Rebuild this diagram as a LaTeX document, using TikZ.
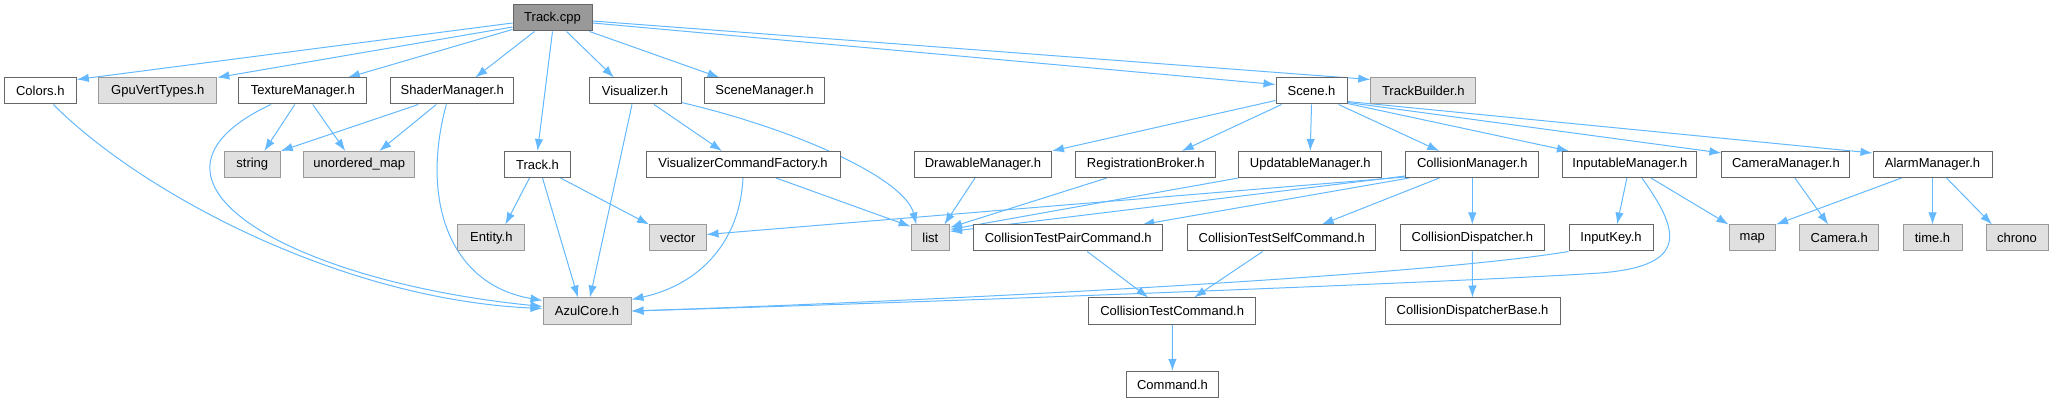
\documentclass[tikz,border=0pt]{standalone}
\usepackage{fontspec}
\setmainfont{Liberation Sans}
\usetikzlibrary{arrows.meta,backgrounds}
\definecolor{edgeblue}{HTML}{63B8FF}

\begin{document}
\begin{tikzpicture}[x=1pt,y=-1pt,
    box/.style={line width=1pt,minimum height=26pt,inner sep=0pt,font=\fontsize{13}{15}\selectfont},
    hdr/.style={box,draw=black!60,fill=white},
    ext/.style={box,draw=black!40,fill=black!12},
    root/.style={box,draw=black!60,fill=black!40},
    dep/.style={edgeblue,line width=1pt,-{Latex[length=12pt,width=8.5pt]}}]
    \useasboundingbox (0,0) rectangle (2053,403);

    \node[root,minimum width=79] (trackcpp) at (552.5,18) {Track.cpp};

    \node[hdr,minimum width=72] (colors) at (40.3,91) {Colors.h};
    \node[ext,minimum width=118] (gpuvert) at (157.8,91) {GpuVertTypes.h};
    \node[hdr,minimum width=128] (texture) at (302.8,91) {TextureManager.h};
    \node[hdr,minimum width=123] (shader) at (452.3,91) {ShaderManager.h};
    \node[hdr,minimum width=92] (visualizer) at (635,91) {Visualizer.h};
    \node[hdr,minimum width=120] (scenemgr) at (764.5,91) {SceneManager.h};
    \node[hdr,minimum width=71] (sceneh) at (1311.5,91) {Scene.h};
    \node[ext,minimum width=105] (trackbuilder) at (1423.3,91) {TrackBuilder.h};

    \node[ext,minimum width=56] (string) at (252.3,164.5) {string};
    \node[ext,minimum width=111] (umap) at (359.3,164.5) {unordered\_map};
    \node[hdr,minimum width=66] (trackh) at (537.5,164.5) {Track.h};
    \node[hdr,minimum width=194] (vcf) at (743,164.5) {VisualizerCommandFactory.h};
    \node[hdr,minimum width=137] (drawable) at (983,164.5) {DrawableManager.h};
    \node[hdr,minimum width=140] (regbroker) at (1145.8,164.5) {RegistrationBroker.h};
    \node[hdr,minimum width=143] (updatable) at (1310.3,164.5) {UpdatableManager.h};
    \node[hdr,minimum width=133] (collmgr) at (1472.3,164.5) {CollisionManager.h};
    \node[hdr,minimum width=134] (inputable) at (1629.9,164.5) {InputableManager.h};
    \node[hdr,minimum width=128] (cameramgr) at (1785.9,164.5) {CameraManager.h};
    \node[hdr,minimum width=119] (alarm) at (1932.5,164.5) {AlarmManager.h};

    \node[ext,minimum width=67] (entity) at (491.3,238) {Entity.h};
    \node[ext,minimum width=56.5] (vector) at (677.8,238) {vector};
    \node[ext,minimum width=38.5] (list) at (930.3,238) {list};
    \node[hdr,minimum width=189] (ctpc) at (1068.2,238) {CollisionTestPairCommand.h};
    \node[hdr,minimum width=188] (ctsc) at (1281.7,238) {CollisionTestSelfCommand.h};
    \node[hdr,minimum width=144.5] (colldisp) at (1472.3,238) {CollisionDispatcher.h};
    \node[hdr,minimum width=84] (inputkey) at (1611,238) {InputKey.h};
    \node[ext,minimum width=46.5] (map) at (1752.3,238) {map};
    \node[ext,minimum width=79] (camera) at (1839.2,238) {Camera.h};
    \node[ext,minimum width=59] (timeh) at (1932.5,238) {time.h};
    \node[ext,minimum width=62] (chrono) at (2017,238) {chrono};

    \node[ext,minimum width=88] (azul) at (587,311) {AzulCore.h};
    \node[hdr,minimum width=167] (ctc) at (1172.2,311) {CollisionTestCommand.h};
    \node[hdr,minimum width=175] (colldispbase) at (1472.5,311) {CollisionDispatcherBase.h};

    \node[hdr,minimum width=92] (command) at (1172.5,384.5) {Command.h};

    \begin{scope}[on background layer]
    \draw[dep] ([yshift=-5]trackcpp.west) -- ([yshift=-2]colors.north east);
    \draw[dep] ([yshift=-9]trackcpp.west) -- (gpuvert.north east);
    \draw[dep] ([yshift=2]trackcpp.south west) -- ([xshift=45]texture.north);
    \draw[dep] ([xshift=-18]trackcpp.south) -- ([xshift=23]shader.north);
    \draw[dep] (trackcpp.south) -- (trackh.north);
    \draw[dep] ([xshift=14]trackcpp.south) -- ([xshift=-21]visualizer.north);
    \draw[dep] ([xshift=37]trackcpp.south) -- ([xshift=-45]scenemgr.north);
    \draw[dep] ([yshift=-5]trackcpp.east) -- ([yshift=-7]sceneh.north west);
    \draw[dep] ([yshift=-3]trackcpp.east) -- ([yshift=-2]trackbuilder.north west);

    \draw[dep] ([xshift=13]colors.south) .. controls +(90,90) and +(-200,-9) .. ([yshift=-11]azul.north west);
    \draw[dep] ([xshift=-32]texture.south) .. controls +(-161,76) and +(-250,-25) .. ([yshift=-9]azul.north west);
    \draw[dep] ([xshift=-8]texture.south) -- ([xshift=12]string.north);
    \draw[dep] ([xshift=10]texture.south) -- ([xshift=-14]umap.north);
    \draw[dep] ([xshift=-34]shader.south) -- (string.north east);
    \draw[dep] ([xshift=-16]shader.south) -- ([xshift=20]umap.north);
    \draw[dep] ([xshift=-6]shader.south) .. controls +(-26,96) and +(-93,-16) .. ([yshift=-3]azul.north west);

    \draw[dep] ([xshift=-8]trackh.south) -- ([xshift=14]entity.north);
    \draw[dep] ([xshift=5]trackh.south) -- ([xshift=-9]azul.north);
    \draw[dep] ([xshift=23]trackh.south) -- (vector.north west);
    \draw[dep] ([xshift=-3]visualizer.south) -- ([xshift=3]azul.north);
    \draw[dep] ([xshift=19]visualizer.south) -- ([xshift=-21]vcf.north);
    \draw[dep] ([yshift=2]visualizer.south east) .. controls +(119,28) and +(-11,-45) .. ([xshift=-14]list.north);
    \draw[dep] ([xshift=33]vcf.south) -- ([yshift=-2]list.north west);
    \draw[dep] (vcf.south) .. controls +(-3,63) and +(69,-15) .. ([yshift=-2]azul.north east);

    \draw[dep] ([yshift=4]sceneh.south west) -- (drawable.north east);
    \draw[dep] ([xshift=-30]sceneh.south) -- ([xshift=36]regbroker.north);
    \draw[dep] (sceneh.south) -- (updatable.north);
    \draw[dep] ([xshift=27]sceneh.south) -- ([xshift=-33]collmgr.north);
    \draw[dep] ([yshift=1]sceneh.south east) -- ([xshift=-61]inputable.north);
    \draw[dep] ([yshift=2]sceneh.south east) -- ([yshift=-2]cameramgr.north west);
    \draw[dep] ([yshift=3]sceneh.south east) -- ([yshift=-2]alarm.north west);

    \draw[dep] ([xshift=-8]drawable.south) -- ([xshift=14]list.north);
    \draw[dep] ([xshift=-39]regbroker.south) -- ([yshift=-3]list.north east);
    \draw[dep] (updatable.south west) -- ([yshift=-5]list.north east);
    \draw[dep] ([yshift=2]collmgr.south west) -- ([yshift=-7]list.north east);
    \draw[dep] ([yshift=1]collmgr.south west) -- ([yshift=-10]vector.north east);
    \draw[dep] ([xshift=4]collmgr.south west) -- ([xshift=74]ctpc.north);
    \draw[dep] ([xshift=-33]collmgr.south) -- ([xshift=40]ctsc.north);
    \draw[dep] (collmgr) -- (colldisp);
    \draw[dep] ([xshift=19]ctpc.south) -- ([xshift=-24]ctc.north);
    \draw[dep] ([xshift=-19]ctsc.south) -- ([xshift=22]ctc.north);
    \draw[dep] (ctc) -- (command);
    \draw[dep] (colldisp) -- (colldispbase);

    \draw[dep] ([xshift=-3]inputable.south) -- ([xshift=6]inputkey.north);
    \draw[dep] ([xshift=21]inputable.south) -- (map.north west);
    \draw[dep] ([xshift=12]inputable.south) .. controls +(38,53) and +(90,-7) .. ([shift={(-30,95)}]inputable.south) .. controls +(-100,7) and +(369,-11) .. (azul.east);
    \draw[dep] (inputkey.south west) .. controls +(-150,25) and +(300,-10) .. (azul.east);
    \draw[dep] ([xshift=9]cameramgr.south) -- ([xshift=-11]camera.north);
    \draw[dep] ([xshift=-31]alarm.south) -- (map.north east);
    \draw[dep] (alarm) -- (timeh);
    \draw[dep] ([xshift=14]alarm.south) -- ([xshift=-25]chrono.north);
    \end{scope}
\end{tikzpicture}
\end{document}
